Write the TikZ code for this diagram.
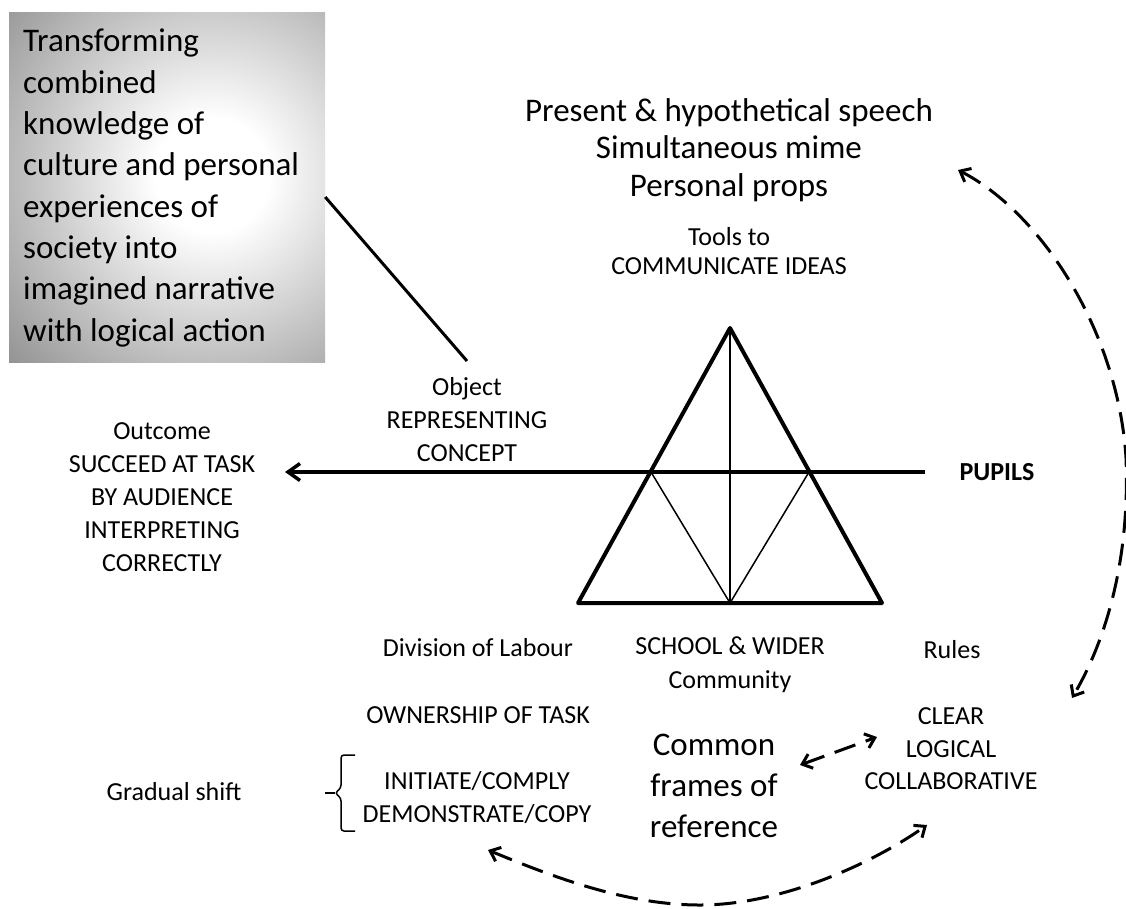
\documentclass[tikz,border=0pt]{standalone}
\usepackage{fontspec}
\setmainfont{Carlito}
\usetikzlibrary{arrows.meta}

% soft white glow fading to grey towards the edges of the quote box
\definecolor{edgegray}{gray}{0.56}
\pgfdeclareradialshading{softglow}{\pgfpoint{0bp}{0bp}}{%
  color(0bp)=(white); color(5bp)=(white);
  color(25bp)=(edgegray); color(50bp)=(edgegray)}

\begin{document}
\begin{tikzpicture}[x=1pt, y=-1pt,
  smalltxt/.style={font=\fontsize{26}{33}\selectfont, align=center, inner sep=0pt},
  bigtxt/.style={font=\fontsize{33}{41}\selectfont, align=center, inner sep=0pt},
  thickline/.style={line width=4pt, line cap=round, line join=round},
  thinline/.style={line width=1.5pt},
  mainarrow/.style={line width=3.5pt, -{Straight Barb[length=12pt, width=17pt, line width=3.5pt]}},
  dasharc/.style={line width=3pt, dash pattern=on 22pt off 11pt,
    {Straight Barb[length=9pt, width=15pt, line width=3pt]}-{Straight Barb[length=9pt, width=15pt, line width=3pt]}},
  bracket/.style={line width=1.5pt, rounded corners=3pt}
]
\useasboundingbox (0,0) rectangle (1126,908);

% quote box with radial glow
\node (box) [minimum width=316pt, minimum height=350pt, inner sep=0pt,
  path picture={\shade[shading=softglow]
    ([xshift=45pt, yshift=12pt]path picture bounding box.center) circle (285pt);}]
  at (167,187) {};
\node (boxtext) [anchor=west, align=left, inner sep=0pt,
  font=\fontsize{33}{41.3}\selectfont] at (23,188)
  {Transforming\\combined\\knowledge of\\culture and personal\\experiences of\\society into\\imagined narrative\\with logical action};

% labels
\node[bigtxt, font=\fontsize{33}{37.5}\selectfont] (speech) at (729,150)
  {Present \& hypothetical speech\\Simultaneous mime\\Personal props};
\node[smalltxt, font=\fontsize{26}{29}\selectfont] (tools) at (729,251)
  {Tools to\\COMMUNICATE IDEAS};
\node[smalltxt] (object) at (467,420) {Object\\REPRESENTING\\CONCEPT};
\node[smalltxt] (outcome) at (162,497)
  {Outcome\\SUCCEED AT TASK\\BY AUDIENCE\\INTERPRETING\\CORRECTLY};
\node[smalltxt, font=\fontsize{26}{33}\bfseries] (pupils) at (997,472) {PUPILS};
\node[smalltxt] (division) at (478,648) {Division of Labour};
\node[smalltxt, font=\fontsize{26}{34}\selectfont] (school) at (730,665)
  {SCHOOL \& WIDER\\Community};
\node[smalltxt] (rules) at (952,650) {Rules};
\node[smalltxt] (ownership) at (478,715) {OWNERSHIP OF TASK};
\node[smalltxt] (initiate) at (477,798) {INITIATE/COMPLY\\DEMONSTRATE/COPY};
\node[bigtxt] (common) at (714,786) {Common\\frames of\\reference};
\node[smalltxt, font=\fontsize{26}{32.5}\selectfont] (clear) at (951,749)
  {CLEAR\\LOGICAL\\COLLABORATIVE};
\node[smalltxt] (gradual) at (174,792) {Gradual shift};

% triangle
\coordinate (apex) at (730,328);
\coordinate (bl) at (578,603);
\coordinate (br) at (882,603);
\coordinate (bm) at (730,603);
\coordinate (ml) at (651,472);
\coordinate (mr) at (809,472);
\draw[thinline] (apex) -- (bm);
\draw[thinline] (ml) -- (bm) -- (mr);
\draw[thickline] (apex) -- (bl) -- (br) -- cycle;

% main arrow from the pupils to the outcome
\coordinate (arrowstart) at (925,472);
\coordinate (arrowend) at (285,472);
\draw[mainarrow] (arrowstart) -- (arrowend);

% leader from the quote box to the object
\coordinate (objtop) at (467,361);
\draw[line width=3pt] ([yshift=-10pt]box.east) -- (objtop);

% dashed interaction arcs
\coordinate (rtop) at (958,170);
\coordinate (rbot) at (1072,698);
\draw[dasharc] (rtop) .. controls (1040,212) and (1118,330) .. (1126,458)
  .. controls (1130,560) and (1106,640) .. (rbot);

\coordinate (lbot) at (488,850);
\coordinate (rb2) at (927,825);
\draw[dasharc] (lbot) .. controls (560,880) and (630,905) .. (700,905)
  .. controls (780,905) and (870,865) .. (rb2);

\coordinate (cfa) at (800,765);
\coordinate (cfb) at (877,737);
\draw[dasharc] (cfa) -- (cfb);

% bracket grouping the two modes
\draw[bracket] (355,755) -- (341,755) -- (341,788) -- (335,793) -- (341,798)
  -- (341,831) -- (355,831);
\draw[line width=1.5pt] (335,793) -- (325,793);
\end{tikzpicture}
\end{document}
